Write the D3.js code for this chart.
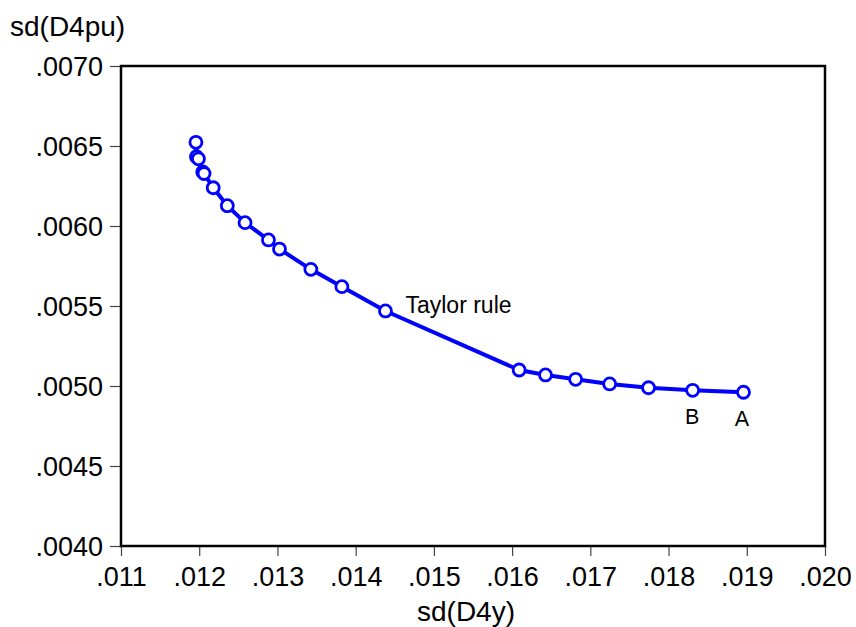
<!DOCTYPE html>
<html>
<head>
<meta charset="utf-8">
<script src="https://cdn.jsdelivr.net/npm/d3@7"></script>
<style>
  html, body { margin: 0; padding: 0; background: #fff; }
  svg { display: block; font-family: "Liberation Sans", Arial, Helvetica, sans-serif; }
</style>
</head>
<body>
<svg id="chart" width="856" height="627"></svg>
<script>
// ---- data ----
const sdY  = [0.011958, 0.011965, 0.011990, 0.012045, 0.012062, 0.012179, 0.012359, 0.012586,
              0.012885, 0.013026, 0.013427, 0.013824, 0.014381, 0.016090, 0.016427, 0.016812,
              0.017247, 0.017744, 0.018308, 0.018958];
const sdPu = [0.006523, 0.006433, 0.006420, 0.006338, 0.006328, 0.006239, 0.006127, 0.006021,
              0.005913, 0.005856, 0.005729, 0.005621, 0.005469, 0.005100, 0.005069, 0.005042,
              0.005013, 0.004989, 0.004973, 0.004961];
const xTicks = [0.011, 0.012, 0.013, 0.014, 0.015, 0.016, 0.017, 0.018, 0.019, 0.020];
const xTickLabels = [".011", ".012", ".013", ".014", ".015", ".016", ".017", ".018", ".019", ".020"];
const yTicks = [0.0040, 0.0045, 0.0050, 0.0055, 0.0060, 0.0065, 0.0070];
const yTickLabels = [".0040", ".0045", ".0050", ".0055", ".0060", ".0065", ".0070"];
const annotations = [
  { text: "Taylor rule", index: 12, dx: 20, dy: 2, size: 23, anchor: "start" },
  { text: "B", index: 18, dx: -0.5, dy: 34, size: 21.5, anchor: "middle" },
  { text: "A", index: 19, dx: -1.5, dy: 34, size: 21.5, anchor: "middle" }
];
const xTitle = "sd(D4y)";
const yTitle = "sd(D4pu)";

// ---- layout ----
const svg = d3.select("#chart");
const mLeft = 121, mRight = 825, mTop = 66, mBottom = 546;

const x = d3.scaleLinear().domain([0.011, 0.020]).range([mLeft, mRight]);
const y = d3.scaleLinear().domain([0.0040, 0.0070]).range([mBottom, mTop]);

// axes
const xAxis = d3.axisBottom(x).tickValues(xTicks).tickFormat((d, i) => xTickLabels[i]).tickSize(10).tickPadding(11);
const yAxis = d3.axisLeft(y).tickValues(yTicks).tickFormat((d, i) => yTickLabels[i]).tickSize(11).tickPadding(7);

const gx = svg.append("g").attr("transform", `translate(0,${mBottom})`).call(xAxis);
const gy = svg.append("g").attr("transform", `translate(${mLeft},0)`).call(yAxis);
[gx, gy].forEach(g => {
  g.select(".domain").remove();
  g.selectAll(".tick line").attr("stroke", "#444").attr("stroke-width", 1.2);
  g.selectAll(".tick text").attr("fill", "#000").style("font-size", "27px")
    .style("font-family", "'Liberation Sans', Arial, sans-serif");
});
gy.selectAll(".tick text").attr("dy", "0.36em");

// frame
svg.append("rect")
  .attr("x", mLeft).attr("y", mTop)
  .attr("width", mRight - mLeft).attr("height", mBottom - mTop)
  .attr("fill", "none").attr("stroke", "#000").attr("stroke-width", 2.5);

// titles
svg.append("text").attr("x", 10).attr("y", 36).text(yTitle)
  .style("font-size", "28px").attr("fill", "#000");
svg.append("text").attr("x", 466).attr("y", 621).attr("text-anchor", "middle").text(xTitle)
  .style("font-size", "28px").attr("fill", "#000");

// line
const pts = sdY.map((v, i) => [v, sdPu[i]]);
svg.append("path")
  .datum(pts)
  .attr("fill", "none")
  .attr("stroke", "#0000ff")
  .attr("stroke-width", 4)
  .attr("stroke-linejoin", "round")
  .attr("d", d3.line().x(d => x(d[0])).y(d => y(d[1])));

// markers
svg.append("g").selectAll("circle")
  .data(pts)
  .join("circle")
  .attr("cx", d => x(d[0]))
  .attr("cy", d => y(d[1]))
  .attr("r", 6)
  .attr("fill", "#fff")
  .attr("stroke", "#0000ff")
  .attr("stroke-width", 2.8);

// annotations
svg.append("g").selectAll("text")
  .data(annotations)
  .join("text")
  .attr("x", d => x(sdY[d.index]) + d.dx)
  .attr("y", d => y(sdPu[d.index]) + d.dy)
  .attr("text-anchor", d => d.anchor)
  .style("font-size", d => d.size + "px")
  .attr("fill", "#000")
  .text(d => d.text);
</script>
</body>
</html>
